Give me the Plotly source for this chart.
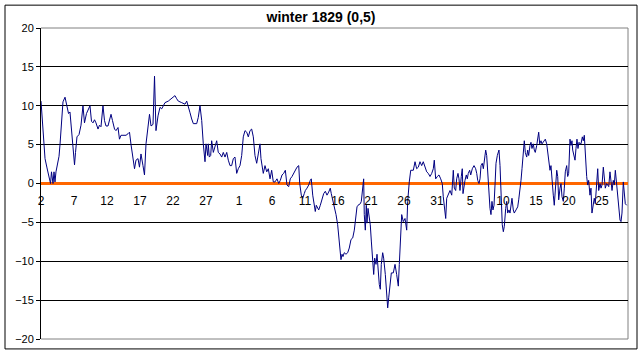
import plotly.graph_objects as go

title_text = "winter 1829 (0,5)"

# time in days after 2 December 1828, temperature readings
obs_day = [
    0.00, 0.15, 0.45, 0.61, 0.91, 1.21, 1.44, 1.59, 1.82, 1.97, 2.12, 2.27, 2.50, 2.73, 2.88,
    3.18, 3.33, 3.64, 3.94, 4.17, 4.39, 4.55, 4.70, 4.85, 5.08, 5.23, 5.45, 5.76, 6.06, 6.36,
    6.59, 6.89, 7.12, 7.42, 7.65, 7.88, 8.11, 8.33, 8.64, 8.86, 9.09, 9.39, 9.62, 9.85, 10.15,
    10.38, 10.61, 10.83, 11.14, 11.36, 11.67, 11.89, 12.12, 12.42, 12.65, 12.88, 13.18, 13.41,
    13.64, 13.94, 14.17, 14.39, 14.70, 14.92, 15.15, 15.45, 15.68, 15.91, 16.21, 16.44, 16.67,
    16.97, 17.20, 17.42, 17.73, 18.03, 18.29, 18.53, 18.79, 19.29, 19.80, 20.30, 20.56, 20.80,
    21.32, 21.82, 22.08, 22.32, 22.58, 22.83, 23.08, 23.59, 23.83, 24.09, 24.35, 24.59, 24.74,
    24.85, 25.00, 25.11, 25.26, 25.35, 25.50, 25.71, 25.86, 26.11, 26.36, 26.62, 26.86, 27.12,
    27.38, 27.62, 27.88, 28.14, 28.38, 28.64, 28.89, 29.14, 29.39, 29.65, 29.89, 30.15, 30.41,
    30.65, 30.91, 31.17, 31.41, 31.67, 31.92, 32.17, 32.42, 32.68, 32.92, 33.18, 33.33, 33.53,
    33.68, 33.94, 34.20, 34.44, 34.70, 34.95, 35.20, 35.45, 35.76, 36.02, 36.26, 36.52, 36.77,
    37.02, 37.27, 37.53, 37.77, 38.03, 38.29, 38.53, 38.79, 39.05, 39.20, 39.44, 39.65, 39.89,
    40.05, 40.30, 40.56, 40.80, 40.95, 41.17, 41.41, 41.56, 41.71, 41.92, 42.08, 42.32, 42.58,
    42.83, 43.08, 43.33, 43.59, 43.83, 43.98, 44.20, 44.44, 44.70, 44.95, 45.11, 45.26, 45.45,
    45.61, 45.76, 45.95, 46.21, 46.47, 46.71, 46.97, 47.23, 47.47, 47.62, 47.88, 48.03, 48.38,
    48.53, 48.74, 48.89, 48.98, 49.14, 49.29, 49.39, 49.55, 49.74, 49.89, 50.05, 50.26, 50.41,
    50.56, 50.76, 50.91, 51.06, 51.26, 51.41, 51.56, 51.77, 51.92, 52.17, 52.32, 52.53, 52.68,
    52.92, 53.08, 53.38, 53.64, 53.89, 54.14, 54.29, 54.65, 54.89, 55.15, 55.41, 55.56, 55.80,
    56.02, 56.41, 56.67, 56.92, 57.17, 57.42, 57.68, 57.92, 58.18, 58.44, 58.68, 58.94, 59.20,
    59.44, 59.59, 59.80, 60.05, 60.30, 60.56, 60.80, 60.95, 61.11, 61.32, 61.47, 61.71, 61.97,
    62.23, 62.47, 62.62, 62.83, 62.98, 63.18, 63.33, 63.48, 63.68, 63.83, 63.94, 64.09, 64.24,
    64.44, 64.59, 64.74, 64.95, 65.11, 65.35, 65.61, 65.86, 66.02, 66.17, 66.36, 66.52, 66.67,
    66.86, 67.02, 67.23, 67.38, 67.53, 67.68, 67.88, 68.03, 68.18, 68.33, 68.48, 68.64, 68.79,
    68.94, 69.14, 69.39, 69.55, 69.70, 69.89, 70.05, 70.20, 70.41, 70.56, 70.71, 70.91, 71.06,
    71.21, 71.36, 71.56, 71.71, 71.97, 72.23, 72.38, 72.58, 72.73, 72.88, 73.08, 73.23, 73.38,
    73.59, 73.74, 73.89, 74.09, 74.24, 74.39, 74.59, 74.74, 74.89, 75.11, 75.26, 75.41, 75.56,
    75.76, 75.91, 76.11, 76.26, 76.41, 76.62, 76.77, 76.92, 77.12, 77.27, 77.42, 77.62, 77.77,
    77.92, 78.14, 78.29, 78.44, 78.64, 78.79, 78.94, 79.14, 79.29, 79.44, 79.65, 79.80, 79.95,
    80.15, 80.30, 80.45, 80.56, 80.71, 80.91, 81.06, 81.21, 81.36, 81.52, 81.67, 81.82, 82.02,
    82.17, 82.32, 82.47, 82.68, 82.83, 82.98, 83.18, 83.33, 83.48, 83.68, 83.83, 83.98, 84.20,
    84.35, 84.50, 84.70, 84.85, 85.00, 85.20, 85.35, 85.50, 85.71, 85.86, 86.02, 86.21, 86.36,
    86.52, 86.71, 86.86, 87.02, 87.23, 87.38, 87.53, 87.73, 87.88, 88.03, 88.23, 88.38, 88.53,
    88.74,
]

temperature = [
    10.6, 8.7, 5.4, 3.2, 2.0, 1.0, 0.0, 1.5, 0.0, 1.5, 0.2, 1.5, 2.5, 3.5, 5.0,
    9.0, 10.5, 11.1, 10.0, 9.0, 9.2, 7.5, 5.5, 4.0, 2.4, 4.0, 6.0, 6.3, 7.5, 10.0,
    7.8, 9.0, 9.5, 10.0, 8.0, 7.8, 8.2, 7.8, 7.0, 7.5, 7.3, 10.0, 8.1, 7.4, 7.4,
    8.1, 8.9, 8.1, 7.0, 6.8, 7.2, 5.7, 6.2, 6.2, 6.2, 6.2, 6.4, 6.6,
    5.0, 3.4, 1.9, 3.0, 3.2, 2.1, 3.8, 2.3, 1.1, 5.1, 7.4, 8.9, 7.4,
    7.6, 13.8, 6.8, 8.7, 9.8, 9.6, 10.0, 10.4, 10.6, 10.9, 11.3, 10.9, 10.6,
    10.4, 10.2, 10.6, 10.0, 9.1, 8.3, 7.7, 7.7, 8.5, 10.0, 8.1, 5.1, 3.2,
    2.8, 5.1, 4.3, 3.6, 5.1, 3.4, 3.6, 5.5, 4.0, 4.7, 5.5, 4.0, 3.8,
    3.4, 4.0, 3.4, 4.0, 3.0, 2.3, 2.3, 3.2, 3.4, 1.3, 1.9, 2.3, 3.6,
    6.0, 6.8, 6.6, 6.0, 6.8, 7.0, 6.0, 3.6, 2.6, 3.8, 5.1, 3.2, 2.1,
    1.3, 2.3, 1.5, 1.9, 0.6, 1.7, 0.2, 0.2, 0.6, 0.0, 0.4, 1.1, 1.3,
    1.7, -0.2, -0.4, 0.6, 0.9, 1.3, 1.7, 2.1, 2.3, 0.0, -1.5, -1.9, -1.3,
    -0.9, -0.6, -0.2, 0.4, 0.6, -1.5, -2.6, -3.6, -2.8, -3.2, -3.4, -2.8, -2.1,
    -1.3, -1.0, -1.5, -1.1, -0.6, -1.3, -2.1, -3.2, -4.0, -5.3, -7.0, -8.7, -9.8,
    -9.1, -9.4, -8.9, -9.1, -8.9, -8.3, -7.2, -7.0, -6.0, -4.5, -3.0, -2.8, -2.6,
    -2.3, -0.9, 0.6, -4.0, -6.0, -2.8, -5.1, -3.2, -4.3, -5.3, -7.4, -9.6, -11.7,
    -9.6, -10.4, -9.1, -11.3, -13.0, -13.6, -10.4, -8.9, -9.6, -11.7, -13.4, -16.0, -14.7,
    -13.0, -11.5, -11.5, -10.4, -11.7, -13.2, -10.4, -4.0, -4.9, -4.5, -6.0, -2.3, 0.2,
    1.7, 1.7, 2.8, 1.9, 2.1, 2.8, 2.3, 2.8, 2.1, 1.5, 1.3, 0.9, 1.3,
    1.9, 3.0, 0.6, 0.9, 1.1, 0.6, 0.0, -1.7, -3.2, -4.5, -1.9, -1.5, -0.9,
    -1.5, 1.7, -0.6, -0.9, 0.6, 1.3, 0.6, -0.9, 0.9, 1.9, -1.3, -0.2, 0.4,
    1.1, 0.6, 1.3, 1.7, 1.1, 1.9, 2.3, 1.9, 1.3, 0.4, 0.0, 0.6, 2.3,
    2.6, 1.9, 3.4, 4.3, 3.6, 1.5, -1.9, -3.2, -4.0, -2.3, -3.4, -2.8, -0.2,
    2.6, 3.6, 4.3, 2.3, -2.3, -5.3, -6.2, -5.5, -3.2, -2.3, -3.8, -3.4, -3.8,
    -2.8, -1.9, -3.4, -3.8, -3.4, -3.0, -2.1, -0.9, 0.4, 1.9, 4.5, 5.5, 4.0,
    3.4, 4.3, 3.6, 4.9, 5.3, 4.5, 5.1, 4.3, 4.0, 4.9, 6.2, 6.6, 5.1,
    5.5, 5.1, 5.3, 5.5, 5.7, 5.1, 3.8, 2.8, 1.7, 2.3, 0.2, -1.5, -2.8,
    -1.1, 1.7, 0.9, -2.1, -0.6, 0.0, -1.7, -2.3, -0.6, 1.5, 2.3, 0.9, 1.3,
    5.7, 4.9, 5.5, 4.3, 3.8, 3.0, 4.5, 5.7, 4.5, 5.3, 5.1, 5.1, 6.0,
    5.5, 6.2, 3.6, 0.9, -0.2, 0.4, -1.5, -0.6, -3.8, -2.8, -1.9, -2.6, -0.4,
    1.9, -0.9, 0.0, -0.6, -0.2, 2.1, 1.1, -0.6, 0.0, -0.2, -0.4, 1.5, 0.4,
    -0.9, 0.4, -0.2, 1.7, -0.4, -2.3, -3.6, -4.7, -4.9, -3.8, 0.2, -1.3, -2.6,
    -2.8,
]

tick_days = [0, 5, 10, 15, 20, 25, 30, 35, 40, 45, 50, 55, 60, 65, 70, 75, 80, 85]
tick_labels = ["2", "7", "12", "17", "22", "27", "1", "6", "11", "16", "21", "26",
               "31", "5", "10", "15", "20", "25"]
y_ticks = [-20, -15, -10, -5, 0, 5, 10, 15, 20]

W, H = 642, 357
L, R, T, B = 41, 14, 28, 16
pw = W - L - R
ph = H - T - B

fig = go.Figure()
fig.add_trace(go.Scatter(
    x=obs_day, y=temperature, mode="lines",
    line=dict(color="#000080", width=1), showlegend=False, hoverinfo="skip",
))

font_family = "Liberation Sans, Arial, sans-serif"

fig.update_layout(
    width=W, height=H,
    margin=dict(l=L, r=R, t=T, b=B, pad=0),
    paper_bgcolor="white", plot_bgcolor="white",
    showlegend=False,
    title=dict(text="<b>" + title_text + "</b>", x=0.5, xref="container",
               y=1 - 17 / H, yref="container", yanchor="middle", xanchor="center",
               font=dict(family=font_family, size=14, color="black")),
    font=dict(family=font_family, size=11, color="black"),
    xaxis=dict(
        range=[0, 88.94], tickvals=tick_days, ticktext=tick_labels,
        showgrid=False, zeroline=False, showline=False,
        ticks="", anchor="free", position=0.5,
        tickfont=dict(family=font_family, size=12, color="black"),
        ticklabelstandoff=8,
    ),
    yaxis=dict(
        range=[-20, 20], tickvals=y_ticks, showgrid=True, gridcolor="black", gridwidth=1,
        zeroline=True, zerolinecolor="#FF6600", zerolinewidth=3,
        showline=True, linecolor="black", linewidth=1,
        ticks="outside", ticklen=4, tickcolor="black",
        tickfont=dict(family=font_family, size=11, color="black"),
    ),
)

# plot-area border (gray, Excel style) and outer chart border (black)
fig.add_shape(type="line", xref="paper", yref="paper", x0=0, x1=1, y0=1, y1=1,
              line=dict(color="#808080", width=1), layer="below")
fig.add_shape(type="line", xref="paper", yref="paper", x0=0, x1=1, y0=0, y1=0,
              line=dict(color="#808080", width=1), layer="below")
fig.add_shape(type="line", xref="paper", yref="paper", x0=1, x1=1, y0=0, y1=1,
              line=dict(color="#808080", width=1), layer="below")
fig.add_shape(type="rect", xref="paper", yref="paper",
              x0=(5 - L) / pw, x1=(637 - L) / pw,
              y0=(H - B - 351) / ph, y1=(H - B - 5) / ph,
              line=dict(color="black", width=1), fillcolor="rgba(0,0,0,0)", layer="below")

fig.write_html("out.html")
